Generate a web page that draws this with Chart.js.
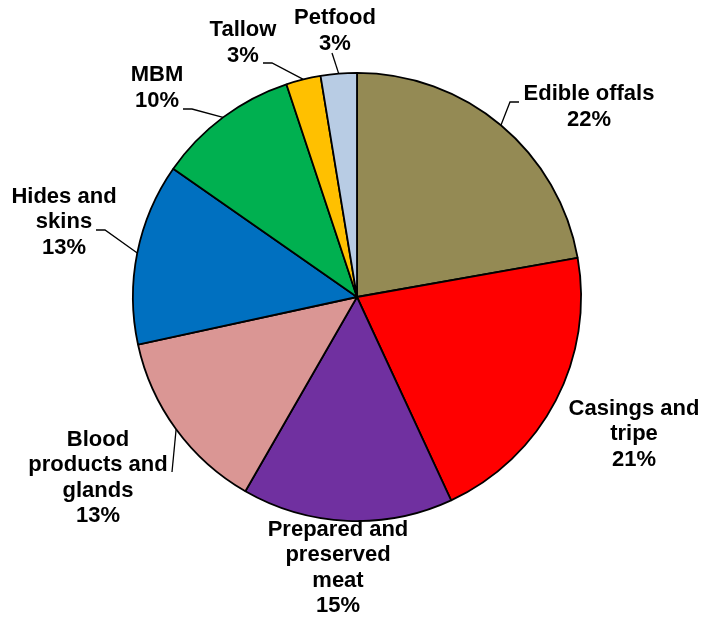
<!DOCTYPE html>
<html>
<head>
<meta charset="utf-8">
<script src="https://cdn.jsdelivr.net/npm/chart.js@4"></script>
<style>
  html, body { margin: 0; padding: 0; background: #fff; }
  #wrap { width: 706px; height: 620px; }
</style>
</head>
<body>
<div id="wrap"><canvas id="myChart"></canvas></div>
<script>
const categories = ['Edible offals', 'Casings and tripe', 'Prepared and preserved meat', 'Blood products and glands', 'Hides and skins', 'MBM', 'Tallow', 'Petfood']
const shares = [22.2, 20.9, 15.2, 13.3, 13.1, 10.2, 2.5, 2.6]
const sliceColors = ['#948A54', '#FF0000', '#7030A0', '#DA9694', '#0070C0', '#00B050', '#FFC000', '#B8CCE4']

// label text lines (category split as in the picture)
const labelLines = [
  ['Edible offals'],
  ['Casings and', 'tripe'],
  ['Prepared and', 'preserved', 'meat'],
  ['Blood', 'products and', 'glands'],
  ['Hides and', 'skins'],
  ['MBM'],
  ['Tallow'],
  ['Petfood']
]

// label block centre, offset from pie centre
const labelOffsets = [
  [232, -190], [277, 137], [-19, 271], [-259, 181],
  [-293, -75], [-200, -209], [-114, -254], [-22, -266]
]

// leader lines: elbow point and optional horizontal end, offset from pie centre
const leaders = [
  [153, -195, 162, -195],
  null,
  null,
  [-185, 175],
  [-252, -67, -261, -67],
  [-165, -188, -174, -188],
  [-85, -234, -94, -234],
  [-25, -244]
]

const total = shares.reduce((acc, v) => acc + v, 0)

const outsideLabels = {
  id: 'outsideLabels',
  afterDatasetsDraw(chart) {
    const c = chart.ctx
    const arcs = chart.getDatasetMeta(0).data
    c.save()
    c.strokeStyle = '#000'
    c.lineWidth = 1.3
    c.fillStyle = '#000'
    c.font = 'bold 22px "Liberation Sans", Arial, sans-serif'
    c.textAlign = 'center'
    c.textBaseline = 'middle'
    arcs.forEach((arc, i) => {
      const cx = arc.x, cy = arc.y
      const mid = (arc.startAngle + arc.endAngle) / 2
      const ld = leaders[i]
      if (ld) {
        c.beginPath()
        c.moveTo(cx + Math.cos(mid) * arc.outerRadius, cy + Math.sin(mid) * arc.outerRadius)
        c.lineTo(cx + ld[0], cy + ld[1])
        if (ld.length > 2) c.lineTo(cx + ld[2], cy + ld[3])
        c.stroke()
      }
      const pct = Math.round(shares[i] / total * 100) + '%'
      const lines = labelLines[i].concat([pct])
      const lh = 25.5
      const x = cx + labelOffsets[i][0]
      const y0 = cy + labelOffsets[i][1] - (lines.length - 1) * lh / 2
      lines.forEach((t, k) => c.fillText(t, x, y0 + k * lh))
    })
    c.restore()
  }
}

const ctx = document.getElementById('myChart')

new Chart(ctx, {
  type: 'pie',
  data: {
    labels: categories,
    datasets: [{
      data: shares,
      backgroundColor: sliceColors,
      borderColor: '#000',
      borderWidth: 1.8
    }]
  },
  options: {
    responsive: true,
    maintainAspectRatio: false,
    animation: false,
    layout: { padding: { left: 132, right: 124, top: 72, bottom: 98 } },
    plugins: {
      legend: { display: false },
      tooltip: { enabled: false }
    }
  },
  plugins: [outsideLabels]
})
</script>
</body>
</html>
